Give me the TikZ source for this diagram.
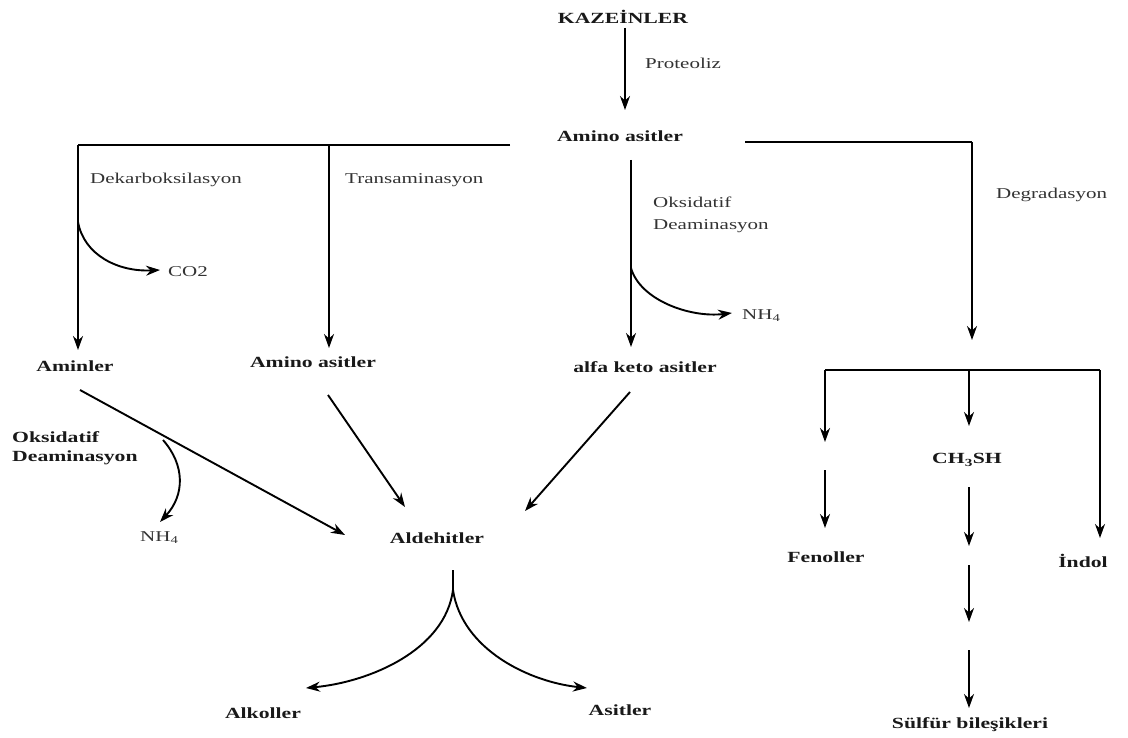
\documentclass[tikz,border=0pt]{standalone}
\usepackage{fontspec}
\setmainfont{Liberation Serif}
\newfontfamily\lblfont[FakeStretch=1.4]{Liberation Serif}
\usetikzlibrary{arrows.meta}
\begin{document}
\begin{tikzpicture}[x=1pt,y=-1pt,
  bl/.style={font=\lblfont\fontsize{15.5}{17}\selectfont\bfseries, text=black!90, inner sep=0pt},
  rl/.style={font=\lblfont\fontsize{15}{17}\selectfont, text=black!80, inner sep=0pt, anchor=west},
  ar/.style={line width=1.9pt, -{Stealth[length=14pt,width=10pt]}},
  ln/.style={line width=1.9pt}]
\useasboundingbox (0,0) rectangle (1128,738);
% main nodes
\node[bl] (kaz) at (623,17) {KAZEİNLER};
\node[bl] (aa0) at (620,136) {Amino asitler};
\node[bl] (am) at (75,366) {Aminler};
\node[bl] (aa1) at (313,362) {Amino asitler};
\node[bl] (akt) at (645,367) {alfa keto asitler};
\node[bl] (ald) at (437,538) {Aldehitler};
\node[bl] (alk) at (263,713) {Alkoller};
\node[bl] (asi) at (620,710) {Asitler};
\node[bl] (fen) at (826,557) {Fenoller};
\node[bl] (ch) at (967,460) {CH\textsubscript{3}SH};
\node[bl] (ind) at (1083,561) {İndol};
\node[bl] (sul) at (970,725) {Sülfür bileşikleri};
\node[bl, anchor=west] (okd1) at (12,437) {Oksidatif};
\node[bl, anchor=west] (okd2) at (12,458) {Deaminasyon};
% regular labels
\node[rl] (prot) at (645,63) {Proteoliz};
\node[rl] (dek) at (90,180) {Dekarboksilasyon};
\node[rl] (tra) at (345,180) {Transaminasyon};
\node[rl] (oks1) at (653,202) {Oksidatif};
\node[rl] (oks2) at (653,226) {Deaminasyon};
\node[rl] (deg) at (996,195) {Degradasyon};
\node[rl] (co2) at (168,272) {CO2};
\node[rl] (nh4a) at (742,316) {NH\textsubscript{4}};
\node[rl] (nh4b) at (140,538) {NH\textsubscript{4}};
% coordinates
\coordinate (k1) at (625,28);
\coordinate (k2) at (625,110);
\coordinate (L0) at (510,145);
\coordinate (L1) at (78,145);
\coordinate (L1e) at (78,350);
\coordinate (T1) at (329,145);
\coordinate (T1e) at (329,348);
\coordinate (O1) at (631,160);
\coordinate (O1e) at (631,347);
\coordinate (R0) at (745,142);
\coordinate (R1) at (972,142);
\coordinate (R1e) at (972,340);
\coordinate (co2s) at (78,222);
\coordinate (co2e) at (160,270);
\coordinate (nhs) at (631,268);
\coordinate (nhe) at (732,313);
\coordinate (am1) at (80,390);
\coordinate (am2) at (345,535);
\coordinate (nbs) at (163,440);
\coordinate (nbe) at (160,522);
\coordinate (aa1s) at (328,395);
\coordinate (aa1e) at (405,507);
\coordinate (aks) at (630,392);
\coordinate (ake) at (525,511);
\coordinate (ds) at (453,570);
\coordinate (dm) at (453,590);
\coordinate (dl) at (306,688);
\coordinate (dr) at (587,688);
\coordinate (H1) at (825,370);
\coordinate (H2) at (969,370);
\coordinate (H3) at (1100,370);
% connectors
\draw[ar] (k1) -- (k2);
\draw[ln] (L0) -- (L1);
\draw[ar] (L1) -- (L1e);
\draw[ar] (T1) -- (T1e);
\draw[ar] (O1) -- (O1e);
\draw[ln] (R0) -- (R1);
\draw[ar] (R1) -- (R1e);
\draw[ar] (co2s) .. controls (84,255) and (118,272) .. (co2e);
\draw[ar] (nhs) .. controls (640,300) and (690,318) .. (nhe);
\draw[ar] (am1) -- (am2);
\draw[ar] (nbs) .. controls (185,465) and (185,495) .. (nbe);
\draw[ar] (aa1s) -- (aa1e);
\draw[ar] (aks) -- (ake);
\draw[ln] (ds) -- (dm);
\draw[ar] (dm) .. controls (445,650) and (370,682) .. (dl);
\draw[ar] (dm) .. controls (462,650) and (530,682) .. (dr);
\draw[ln] (H1) -- (H3);
\draw[ar] (H1) -- (825,442);
\draw[ar] (825,470) -- (825,528);
\draw[ar] (H2) -- (969,426);
\draw[ar] (969,487) -- (969,546);
\draw[ar] (969,565) -- (969,622);
\draw[ar] (969,650) -- (969,708);
\draw[ar] (H3) -- (1100,538);
\end{tikzpicture}
\end{document}
